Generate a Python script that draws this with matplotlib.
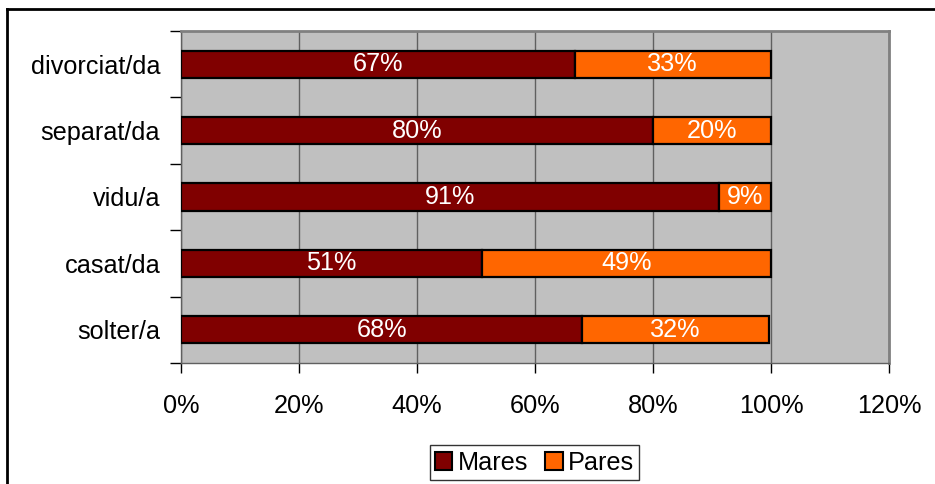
import matplotlib.pyplot as plt
from matplotlib.lines import Line2D
from matplotlib.patches import Patch

plt.rcParams['font.family'] = ['Liberation Sans', 'DejaVu Sans']

# Data
categories = ['solter/a', 'casat/da', 'vidu/a', 'separat/da', 'divorciat/da']
mares = [68.0, 51.0, 91.2, 80.0, 66.7]
pares = [31.7, 49.0, 8.8, 20.0, 33.3]
xticks = [0, 20, 40, 60, 80, 100, 120]

W, H = 935, 484
fs = 18.2
fig = plt.figure(figsize=(W / 100, H / 100), dpi=100)

# outer chart border (only left and top visible)
fig.add_artist(Line2D([7 / W, 7 / W], [0, 1 - 9 / H], color='black', lw=2))
fig.add_artist(Line2D([7 / W, 1], [1 - 9 / H, 1 - 9 / H], color='black', lw=2))

ax = fig.add_axes([181 / W, (H - 363) / H, (889 - 181) / W, (363 - 31) / H])
ax.set_facecolor('#C0C0C0')

y = range(len(categories))
bh = 0.41
ax.barh(y, mares, height=bh, color='#800000', edgecolor='black', linewidth=1.6, label='Mares', zorder=3)
ax.barh(y, pares, left=mares, height=bh, color='#FF6600', edgecolor='black', linewidth=1.6, label='Pares', zorder=3)

for i in y:
    ax.text(mares[i] / 2, i, f'{round(mares[i])}%', color='white', ha='center', va='center',
            fontsize=fs, zorder=4)
    ax.text(mares[i] + pares[i] / 2, i, f'{round(pares[i])}%', color='white', ha='center',
            va='center', fontsize=fs, zorder=4)

ax.set_xlim(0, 120)
ax.set_ylim(-0.5, len(categories) - 0.5)
ax.set_xticks(xticks)
ax.set_xticklabels([f'{t}%' for t in xticks])
ax.set_yticks(list(y))
ax.set_yticklabels(categories)
ax.set_yticks([i + 0.5 for i in range(-1, len(categories))], minor=True)
ax.tick_params(axis='y', which='major', length=0, pad=15, labelsize=fs)
ax.tick_params(axis='y', which='minor', length=8, width=1, color='black')
ax.tick_params(axis='x', length=7, width=1, color='black', pad=15, labelsize=fs)

ax.grid(axis='x', color='#606060', linewidth=1, zorder=1)
for s in ax.spines.values():
    s.set_color('#808080')
    s.set_linewidth(2)
ax.spines['left'].set_color('#606060')
ax.spines['left'].set_linewidth(1)
ax.spines['bottom'].set_color('#606060')
ax.spines['bottom'].set_linewidth(1)

handles = [Patch(facecolor='#800000', edgecolor='black', linewidth=1.5),
           Patch(facecolor='#FF6600', edgecolor='black', linewidth=1.5)]
leg = fig.legend(handles, ['Mares', 'Pares'], loc='center', bbox_to_anchor=(534.5 / W, 1 - 462.5 / H),
                 ncol=2, fontsize=fs, frameon=True, fancybox=False, handlelength=0.7,
                 handleheight=0.7, handletextpad=0.2, columnspacing=0.7, borderpad=0.2,
                 borderaxespad=0)
leg.get_frame().set_edgecolor('black')
leg.get_frame().set_linewidth(1)

fig.savefig('out.png', dpi=100)
